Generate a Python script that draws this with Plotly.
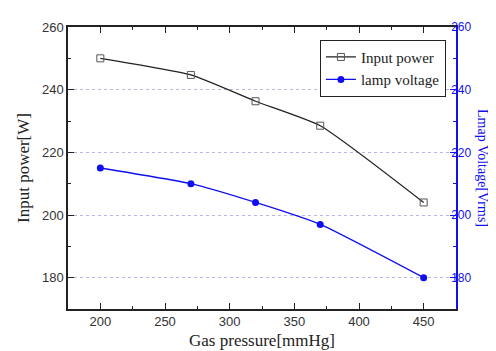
import plotly.graph_objects as go

pressure = [200, 270, 320, 370, 450]
input_power = [250.0, 244.7, 236.3, 228.5, 204.0]
lamp_voltage = [215.0, 210.0, 204.0, 197.0, 180.0]

x_ticks = [200, 250, 300, 350, 400, 450]
y_ticks = [180, 200, 220, 240, 260]

serif = "Liberation Serif, Times New Roman, serif"
sans = "Arial, Liberation Sans, sans-serif"

fig = go.Figure()
fig.add_trace(go.Scatter(
    x=pressure, y=input_power, name="Input power", mode="lines+markers",
    line=dict(color="#222222", width=1.3, shape="spline", smoothing=0.5),
    marker=dict(symbol="square-open", size=7, color="#555555", line=dict(width=1)),
))
fig.add_trace(go.Scatter(
    x=pressure, y=lamp_voltage, name="lamp voltage", mode="lines+markers",
    yaxis="y2",
    line=dict(color="#1010ee", width=1.3, shape="spline", smoothing=0.5),
    marker=dict(symbol="circle", size=7, color="#1010ee"),
))

fig.update_layout(
    width=496, height=351,
    margin=dict(l=60, r=48, t=16, b=44),
    paper_bgcolor="white", plot_bgcolor="white",
    font=dict(family=sans, size=13, color="#333333"),
    xaxis=dict(
        range=[175, 475], tickvals=x_ticks, ticks="inside", ticklen=6,
        tickcolor="#222222", showline=True, linecolor="#222222", linewidth=1.5,
        mirror="ticks", showgrid=False, zeroline=False,
        minor=dict(ticks="inside", ticklen=3, tickcolor="#222222", dtick=25),
        title=dict(text="Gas pressure[mmHg]", font=dict(family=serif, size=17, color="#222222"), standoff=6),
    ),
    yaxis=dict(
        range=[170, 260], tickvals=y_ticks, ticks="inside", ticklen=6,
        tickcolor="#222222", showline=True, linecolor="#222222", linewidth=1.5,
        showgrid=True, gridcolor="#b8b8e8", griddash="dot", gridwidth=1,
        zeroline=False,
        minor=dict(ticks="inside", ticklen=3, tickcolor="#222222", dtick=10, showgrid=False),
        title=dict(text="Input power[W]", font=dict(family=serif, size=17, color="#222222"), standoff=8),
    ),
    yaxis2=dict(
        range=[170, 260], tickvals=y_ticks, ticks="inside", ticklen=6,
        overlaying="y", side="right", tickcolor="#1010ee",
        showline=True, linecolor="#1010ee", linewidth=1.5,
        tickfont=dict(color="#1010ee", size=12), showgrid=False, zeroline=False,
        ticklabelstandoff=-9,
        minor=dict(ticks="inside", ticklen=3, tickcolor="#1010ee", dtick=10, showgrid=False),
    ),
    legend=dict(
        x=0.974, y=0.955, xanchor="right", yanchor="top",
        bgcolor="white", bordercolor="#222222", borderwidth=1,
        font=dict(family=serif, size=15, color="#222222"),
        tracegroupgap=0, itemwidth=30,
    ),
    annotations=[dict(
        text="Lmap Voltage[Vrms]", textangle=90, xref="paper", yref="paper",
        x=1.0, y=0.5, xanchor="center", yanchor="middle", xshift=27, showarrow=False,
        font=dict(family=serif, size=14, color="#1010ee"),
    )],
)

fig.write_html("out.html")
